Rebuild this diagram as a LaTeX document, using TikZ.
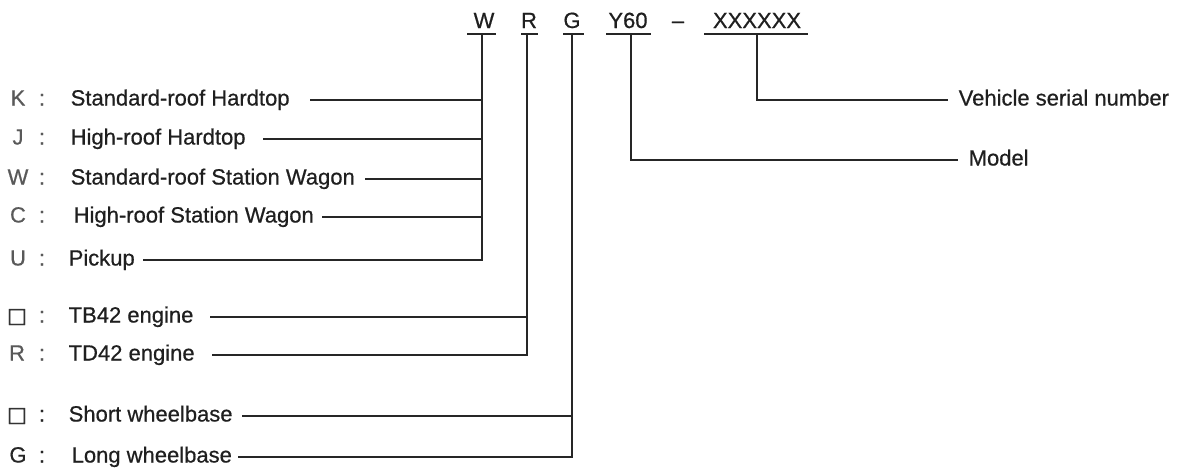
\documentclass[tikz,border=0pt]{standalone}
\usepackage{fontspec}
\setmainfont{Liberation Sans}[UprightFeatures={FakeBold=0.6}]
\newfontfamily\symfont{DejaVu Sans}[UprightFeatures={FakeBold=1}]
\begin{document}
\begin{tikzpicture}[x=1pt,y=-1pt,line width=1.4pt,
  txt/.style={inner sep=0pt,text height=16pt,text depth=5pt,font=\fontsize{22}{26}\selectfont},
  lbl/.style={txt,anchor=west,text=black!88},
  code/.style={txt,anchor=center,text=black!65},
  boxsym/.style={txt,anchor=center,text=black!80,font=\symfont\fontsize{21}{24}\selectfont},
  top/.style={inner sep=0pt,anchor=base,text=black!88,font=\fontsize{22}{26}\selectfont},
  conn/.style={draw=black!85,line width=1.4pt}]
\useasboundingbox (0,0) rectangle (1194,471);

% top code
\node[top] (tW) at (484,28) {W};
\node[top] (tR) at (529,28) {R};
\node[top] (tG) at (572,28) {G};
\node[top] (tY) at (628,28) {Y60};
\node[top] (tD) at (678,28) {\textendash};
\node[top] (tX) at (757,28) {XXXXXX};
\draw[conn] (467,34) -- (496,34);
\draw[conn] (521,34) -- (538,34);
\draw[conn] (563,34) -- (584,34);
\draw[conn] (606,34) -- (651,34);
\draw[conn] (704,34) -- (808,34);
\coordinate (vW) at (482,34);
\coordinate (vR) at (527,34);
\coordinate (vG) at (572,34);
\coordinate (vY) at (631,34);
\coordinate (vX) at (757,34);

% right labels
\node[lbl] (lV) at (958,100) {Vehicle serial number};
\node[lbl] (lM) at (968,160) {Model};
\draw[conn] (vX) |- ([xshift=-10pt]lV.west);
\draw[conn] (vY) |- ([xshift=-10pt]lM.west);

% body type
\node[code] (cK) at (18,100) {K}; \node[code] (kK) at (42,100) {:};
\node[lbl] (lK) at (70,100) {Standard-roof Hardtop};
\node[code] (cJ) at (18,139) {J}; \node[code] (kJ) at (42,139) {:};
\node[lbl] (lJ) at (70,139) {High-roof Hardtop};
\node[code] (cW) at (18,179) {W}; \node[code] (kW) at (42,179) {:};
\node[lbl] (lW) at (70,179) {Standard-roof Station Wagon};
\node[code] (cC) at (18,217) {C}; \node[code] (kC) at (42,217) {:};
\node[lbl] (lC) at (73,217) {High-roof Station Wagon};
\node[code] (cU) at (18,260) {U}; \node[code] (kU) at (42,260) {:};
\node[lbl] (lU) at (68,260) {Pickup};
\coordinate (sK) at (310,100);
\coordinate (sJ) at (263,139);
\coordinate (sW) at (365,179);
\coordinate (sC) at (322,217);
\coordinate (sU) at (143,260);
\draw[conn] (sU) -| (vW);
\foreach \s in {sK,sJ,sW,sC} \draw[conn] (\s) -- (\s -| vW);

% engine
\node[boxsym] (cB1) at (17,317) {□}; \node[code] (kB1) at (42,317) {:};
\node[lbl] (lB) at (68,317) {TB42 engine};
\node[code] (cR) at (17,355) {R}; \node[code] (kR) at (42,355) {:};
\node[lbl] (lD) at (68,355) {TD42 engine};
\coordinate (sB) at (210,317);
\coordinate (sD) at (212,355);
\draw[conn] (sD) -| (vR);
\draw[conn] (sB) -- (sB -| vR);

% wheelbase
\node[boxsym] (cB2) at (17,416) {□}; \node[code,text=black!85] (kB2) at (42,416) {:};
\node[lbl] (lS) at (68,416) {Short wheelbase};
\node[code,text=black!85] (cG) at (18,457) {G}; \node[code,text=black!85] (kG) at (42,457) {:};
\node[lbl] (lL) at (71,457) {Long wheelbase};
\coordinate (sS) at (242,416);
\coordinate (sL) at (238,457);
\draw[conn] (sL) -| (vG);
\draw[conn] (sS) -- (sS -| vG);
\end{tikzpicture}
\end{document}
